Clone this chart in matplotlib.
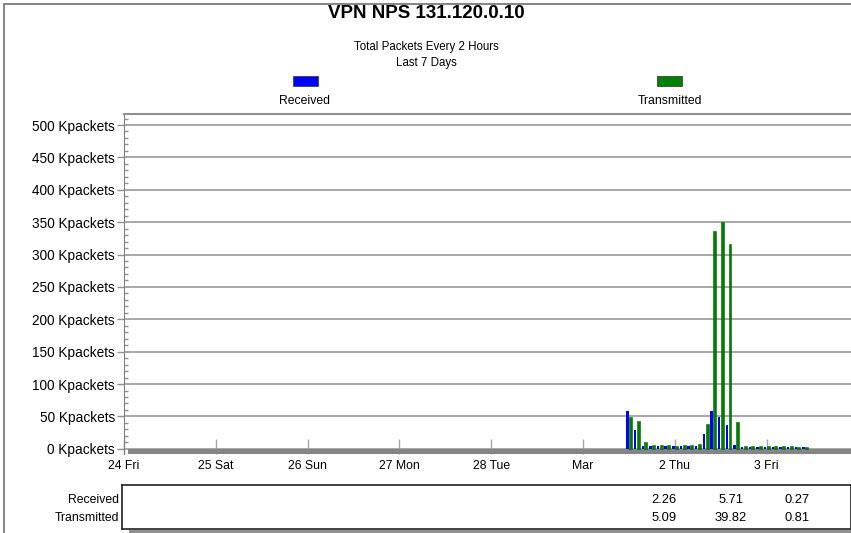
import matplotlib
matplotlib.use("Agg")
import matplotlib.pyplot as plt
from matplotlib.patches import Rectangle
from matplotlib.ticker import MultipleLocator

plt.rcParams['font.family'] = ['Liberation Sans', 'DejaVu Sans']

# data: total packets (Kpackets) per 2-hour slot, first slot index counted from 24 Fri 00:00
first_slot = 66
received = [59, 29, 4, 4, 4, 4, 4, 4, 4, 4, 23, 59, 49, 37, 6, 3, 3, 3, 3, 3, 3, 3, 3, 3]
transmitted = [49, 43, 11, 6, 6, 6, 4, 6, 6, 8, 39, 336, 351, 316, 41, 4, 4, 4, 4, 4, 4, 4, 3, 3]
day_labels = ["24 Fri", "25 Sat", "26 Sun", "27 Mon", "28 Tue", "Mar", "2 Thu", "3 Fri"]
y_ticks = [0, 50, 100, 150, 200, 250, 300, 350, 400, 450, 500]
table_received = ["2.26", "5.71", "0.27"]
table_transmitted = ["5.09", "39.82", "0.81"]

W, H = 851, 533
fig = plt.figure(figsize=(W / 100, H / 100), dpi=100)


def fx(px):
    return px / W


def fy(py):
    return 1 - py / H


# plot area in pixels
left, top, bottom = 124, 114, 454
px_per_day = 91.8
ax = fig.add_axes([fx(left), fy(bottom), 1 - fx(left), (bottom - top) / H])
xmax = (W - left) / px_per_day
ax.set_xlim(0, xmax)
ax.set_ylim(-8, 517)

x = [(first_slot + i) / 12 for i in range(len(received))]
ax.bar([v - 0.016 for v in x], received, width=0.026, color="#0000ff", zorder=3)
ax.bar([v + 0.018 for v in x], transmitted, width=0.032, color="#008000",
       edgecolor="#006000", linewidth=0.4, zorder=3)

# gray floor
ax.fill_between([4 / px_per_day, xmax], -8, 0, color="#858585", zorder=2, lw=0)

ax.set_yticks(y_ticks)
ax.set_yticklabels([f"{v} Kpackets" for v in y_ticks], fontsize=9.8)
ax.yaxis.set_minor_locator(MultipleLocator(10))
ax.tick_params(axis="y", which="major", direction="out", length=5, width=1,
               color="#909090", pad=1.5)
ax.tick_params(axis="y", which="minor", direction="in", length=3, width=1,
               color="#909090")
ax.grid(axis="y", color="#a0a0a0", lw=1.3, zorder=1)
ax.set_axisbelow(True)

ax.set_xticks(range(len(day_labels)))
ax.set_xticklabels(day_labels, fontsize=8.8)
ax.tick_params(axis="x", direction="in", length=11, width=1, color="#a8a8a8", pad=4)

for s in ["right", "bottom"]:
    ax.spines[s].set_visible(False)
ax.spines["left"].set_color("#808080")
ax.spines["top"].set_color("#909090")
ax.spines["top"].set_linewidth(1.5)

# titles
fig.text(fx(426), fy(13), "VPN NPS 131.120.0.10", ha="center", va="center",
         fontsize=13.5, fontweight="bold")
fig.text(fx(426), fy(47), "Total Packets Every 2 Hours", ha="center", va="center", fontsize=8.3)
fig.text(fx(426), fy(63), "Last 7 Days", ha="center", va="center", fontsize=8.3)

# legend
fig.patches.append(Rectangle((fx(293), fy(86)), 25 / W, 10 / H, transform=fig.transFigure,
                             facecolor="#0000ff", edgecolor="#404040", lw=0.6))
fig.patches.append(Rectangle((fx(657), fy(86)), 25 / W, 10 / H, transform=fig.transFigure,
                             facecolor="#008000", edgecolor="#404040", lw=0.6))
fig.text(fx(305), fy(101), "Received", ha="center", va="center", fontsize=8.8)
fig.text(fx(670), fy(101), "Transmitted", ha="center", va="center", fontsize=8.8)

# summary table
tab = fig.add_axes([fx(122), fy(529), 1 - fx(122), (529 - 485) / H])
tab.set_xlim(-2 / px_per_day, (W - left) / px_per_day)
tab.set_ylim(0, 1)
tab.set_xticks([])
tab.set_yticks([])
for s in tab.spines.values():
    s.set_color("#202020")
    s.set_linewidth(1.2)
cols = [5.88, 6.61, 7.33]
for c, r, t in zip(cols, table_received, table_transmitted):
    tab.text(c, 0.67, r, ha="center", va="center", fontsize=9.3)
    tab.text(c, 0.26, t, ha="center", va="center", fontsize=9.3)
fig.text(fx(119), fy(500), "Received", ha="right", va="center", fontsize=8.8)
fig.text(fx(119), fy(518), "Transmitted", ha="right", va="center", fontsize=8.8)
fig.patches.append(Rectangle((fx(129), 0), 1, fy(530), transform=fig.transFigure,
                             facecolor="#909090", lw=0))

# outer frame
fig.patches.append(Rectangle((fx(4), -0.1), 1.2, fy(4) + 0.1, transform=fig.transFigure,
                             facecolor="none", edgecolor="#707070", lw=1.2))

fig.savefig("out.png", dpi=100)
